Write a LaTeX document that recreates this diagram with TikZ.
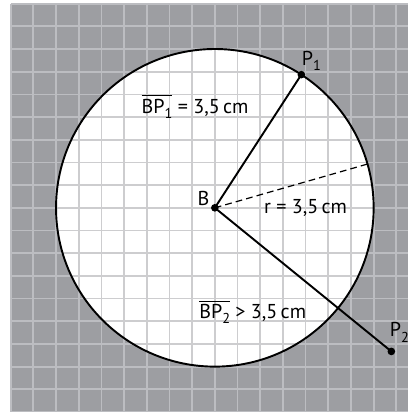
\documentclass[tikz,border=0pt]{standalone}
\usepackage{fontspec}
\setmainfont{PT Sans}
\newcommand{\myovl}[1]{{\setbox0\hbox{#1}\rlap{\raisebox{10.6pt}{\rule{\wd0}{0.6pt}}}\box0}}
\newcommand{\mysub}[1]{\raisebox{-3.2pt}{\fontsize{9}{10}\selectfont #1}}
\definecolor{bggray}{RGB}{157,158,162}
\definecolor{gridout}{RGB}{188,189,193}
\definecolor{gridin}{RGB}{205,205,207}
\tikzset{
  dotnode/.style={circle,fill=black,inner sep=0pt,minimum size=4.8pt},
  seg/.style={line width=1.2pt,black},
  lbl/.style={inner sep=0pt,font=\fontsize{12.6}{14}\selectfont},
}
\begin{document}
\begin{tikzpicture}[x=0.5cm,y=0.5cm]
\useasboundingbox (-9.47,-9.0) rectangle (8.53,9.16);
\fill[bggray] (-9,-9) rectangle (8.53,9);
\draw[gridout,line width=1.1pt,step=1] (-9,-9) grid (8.53,9);
\fill[white] (0,0) circle (7);
\begin{scope}
  \clip (0,0) circle (7);
  \draw[gridin,line width=1.1pt,step=1] (-8,-8) grid (8,8);
\end{scope}
\draw[line width=1.2pt] (0,0) circle (7);
\node[dotnode] (B) at (0,0) {};
\node[dotnode] (P1) at (57:7) {};
\node[dotnode] (P2) at (7.78,-6.33) {};
\coordinate (R) at (16:7);
\draw[line width=0.75pt,dash pattern=on 4.2pt off 2.6pt] (B.center) -- (R);
\draw[seg] (B.center) -- (P1.center);
\draw[seg] (B.center) -- (P2.center);
\node[lbl,anchor=base] (lB) at (-0.50,0.12) {B};
\node[lbl,anchor=base west] (lP1) at (3.82,6.29) {P\mysub{1}};
\node[lbl,anchor=base west] (lP2) at (7.70,-5.69) {P\mysub{2}};
\node[lbl,anchor=base] (lBP1) at (-0.87,4.17) {\myovl{BP\mysub{1}} = 3,5\,cm};
\node[lbl,anchor=base] (lr) at (4.0,-0.25) {r = 3,5\,cm};
\node[lbl,anchor=base] (lBP2) at (1.67,-4.88) {\myovl{BP\mysub{2}} > 3,5\,cm};
\end{tikzpicture}
\end{document}
